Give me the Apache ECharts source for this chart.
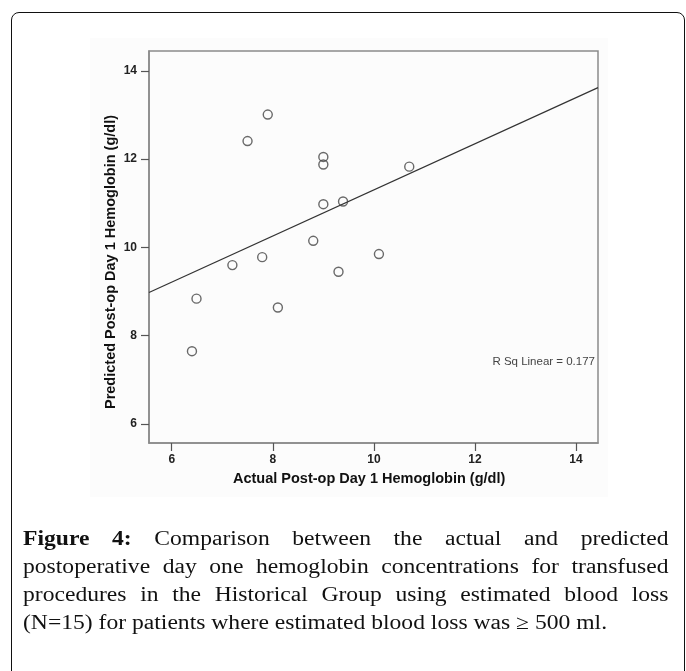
<!DOCTYPE html>
<html>
<head>
<meta charset="utf-8">
<script src="https://cdn.jsdelivr.net/npm/echarts@6/dist/echarts.min.js"></script>
<style>
  html, body { margin: 0; padding: 0; background: #fff; }
  #wrap { position: relative; width: 686px; height: 671px; overflow: hidden; }
  #chart { position: absolute; left: 0; top: 0; width: 686px; height: 671px; }
  #frame { position: absolute; left: 11px; top: 12px; width: 674px; height: 700px;
           border: 1.5px solid #111; border-radius: 8px; box-sizing: border-box; pointer-events: none; }
  #caption { position: absolute; left: 23px; top: 524px; width: 547px;
             transform: scaleX(1.18); transform-origin: 0 0;
             font-family: "Liberation Serif", "DejaVu Serif", serif; font-size: 20px; line-height: 28px;
             color: #111; }
  #caption .ln { text-align: justify; text-align-last: justify; white-space: nowrap; }
  #caption .ln.last { text-align: left; text-align-last: left; }
  #caption b { font-weight: bold; }
</style>
</head>
<body>
<div id="wrap">
  <div id="chart"></div>
  <div id="frame"></div>
  <div id="caption">
    <div class="ln"><b>Figure 4:</b> Comparison between the actual and predicted</div>
    <div class="ln">postoperative day one hemoglobin concentrations for transfused</div>
    <div class="ln">procedures in the Historical Group using estimated blood loss</div>
    <div class="ln last">(N=15) for patients where estimated blood loss was &ge; 500 ml.</div>
  </div>
</div>
<script>
// Data
const actualHb    = [7.90, 7.50, 7.20, 7.79, 9.00, 9.00, 10.70, 9.00, 9.39, 8.80, 10.10, 9.30, 6.49, 8.10, 6.40];
const predictedHb = [13.01, 12.41, 9.60, 9.78, 12.05, 11.88, 11.83, 10.98, 11.04, 10.15, 9.85, 9.45, 8.84, 8.64, 7.65];
const fitLineX = [5.55, 14.435];
const fitLineY = [8.98, 13.62];
const xTicks = [6, 8, 10, 12, 14];
const yTicks = [6, 8, 10, 12, 14];
const xTitle = 'Actual Post-op Day 1 Hemoglobin (g/dl)';
const yTitle = 'Predicted Post-op Day 1 Hemoglobin (g/dl)';
const rSqText = 'R Sq Linear = 0.177';

const points = actualHb.map((x, i) => [x, predictedHb[i]]);
const fitLine = fitLineX.map((x, i) => [x, fitLineY[i]]);

const chart = echarts.init(document.getElementById('chart'), null, { renderer: 'canvas' });
const axisFont = { fontFamily: 'Liberation Sans, Arial, sans-serif', fontWeight: 'bold', fontSize: 12, color: '#222' };

chart.setOption({
  animation: false,
  backgroundColor: '#ffffff',
  grid: { left: 149, top: 51, width: 449, height: 392, show: true, borderColor: '#8a8a8a', borderWidth: 1.5, backgroundColor: 'transparent' },
  xAxis: {
    type: 'value', min: 5.55, max: 14.435,
    axisLine: { show: true, lineStyle: { color: '#8a8a8a', width: 1.5 } },
    axisTick: { show: true, length: 8, lineStyle: { color: '#555', width: 1.2 }, customValues: xTicks },
    axisLabel: Object.assign({ margin: 11, customValues: xTicks }, axisFont),
    splitLine: { show: false }
  },
  yAxis: {
    type: 'value', min: 5.57, max: 14.45,
    axisLine: { show: true, lineStyle: { color: '#8a8a8a', width: 1.5 } },
    axisTick: { show: true, length: 8, lineStyle: { color: '#555', width: 1.2 }, customValues: yTicks },
    axisLabel: Object.assign({ margin: 12, customValues: yTicks }, axisFont),
    splitLine: { show: false }
  },
  graphic: [
    { type: 'rect', z: -10, silent: true, shape: { x: 90, y: 38, width: 518, height: 459 }, style: { fill: '#fcfcfc' } },
    { type: 'text', left: 233, top: 471, style: { text: xTitle, font: 'bold 14.5px "Liberation Sans", Arial, sans-serif', fill: '#111' } },
    { type: 'text', x: 111, y: 262, rotation: Math.PI / 2, style: { text: yTitle, font: 'bold 14.5px "Liberation Sans", Arial, sans-serif', fill: '#111', textAlign: 'center', textVerticalAlign: 'middle' } },
    { type: 'text', x: 595, y: 362, style: { text: rSqText, font: '11.5px "Liberation Sans", Arial, sans-serif', fill: '#444', textAlign: 'right', textVerticalAlign: 'middle' } }
  ],
  series: [
    {
      type: 'line', data: fitLine, symbol: 'none', clip: true,
      lineStyle: { color: '#333', width: 1.2 }, z: 2
    },
    {
      type: 'scatter', data: points, symbol: 'circle', symbolSize: 9,
      itemStyle: { color: 'rgba(255,255,255,0)', borderColor: '#444', borderWidth: 1.4 }, z: 3
    }
  ]
});
</script>
</body>
</html>
